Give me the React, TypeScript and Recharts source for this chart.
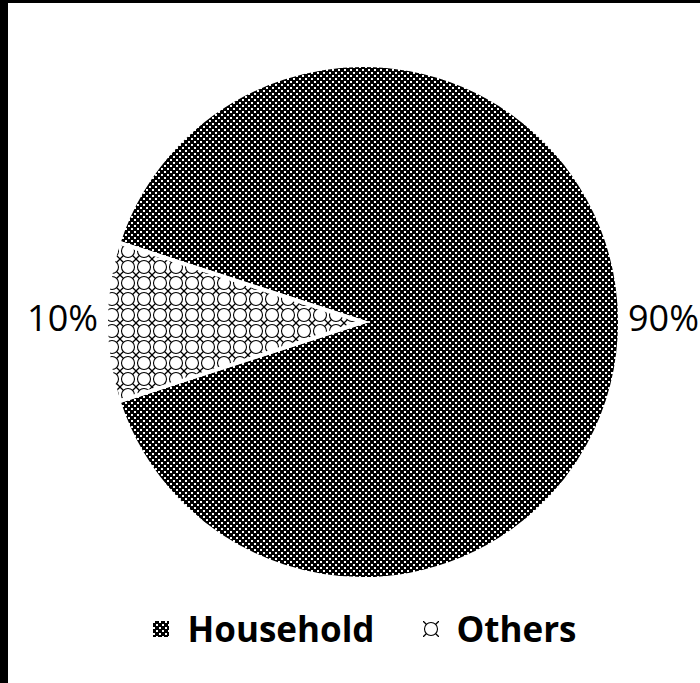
import React from "react";
import { PieChart, Pie, Cell, Legend } from "recharts";

const categories = ["Household", "Others"];
const shares = [90, 10];
const patternIds = ["householdPattern", "othersPattern"];

const data = categories.map((name, i) => ({ name, value: shares[i] }));

const FONT = "'Open Sans', sans-serif";
const RADIAN = Math.PI / 180;

const PercentLabel = (props: any) => {
  const { cx, cy, midAngle, outerRadius, value } = props;
  const r = outerRadius + 8;
  const x = cx + r * Math.cos(-midAngle * RADIAN);
  const y = cy + r * Math.sin(-midAngle * RADIAN);
  return (
    <text
      x={x}
      y={y - 5}
      fill="#000"
      textAnchor={x > cx ? "start" : "end"}
      dominantBaseline="central"
      style={{ fontFamily: FONT, fontSize: 36 }}
    >
      {value}%
    </text>
  );
};

const LegendContent = () => (
  <div
    style={{
      display: "flex",
      justifyContent: "center",
      alignItems: "center",
      paddingLeft: 22,
      fontFamily: FONT,
      fontSize: 35,
      fontWeight: 700,
      color: "#000",
    }}
  >
    {categories.map((name, i) => (
      <div
        key={name}
        style={{ display: "flex", alignItems: "center", marginRight: i === 0 ? 48 : 0 }}
      >
        <svg width={16} height={16} style={{ marginRight: 18 }}>
          <rect width={16} height={16} fill={`url(#${patternIds[i]})`} />
        </svg>
        <span>{name}</span>
      </div>
    ))}
  </div>
);

export default function App() {
  return (
    <div
      style={{
        position: "absolute",
        left: 0,
        top: 0,
        width: 700,
        height: 683,
        background: "#fff",
        borderLeft: "8px solid #000",
        borderTop: "3px solid #000",
        boxSizing: "border-box",
      }}
    >
      <PieChart width={692} height={680}>
        <defs>
          <pattern id="householdPattern" width={6} height={6} patternUnits="userSpaceOnUse">
            <rect width={6} height={6} fill="#000" />
            <rect x={0} y={0} width={2} height={2} fill="#fff" />
            <rect x={3} y={3} width={2} height={2} fill="#fff" />
          </pattern>
          <pattern id="othersPattern" width={16} height={16} patternUnits="userSpaceOnUse">
            <rect width={16} height={16} fill="#fff" />
            <circle cx={8} cy={8} r={6.5} fill="none" stroke="#000" strokeWidth={1.1} />
            <path
              d="M0 0 L3.5 3.5 M16 0 L12.5 3.5 M0 16 L3.5 12.5 M16 16 L12.5 12.5"
              stroke="#000"
              strokeWidth={1.3}
            />
          </pattern>
        </defs>
        <Pie
          data={data}
          dataKey="value"
          nameKey="name"
          cx={350}
          cy={314}
          outerRadius={257}
          startAngle={198}
          endAngle={558}
          stroke="#fff"
          strokeWidth={4}
          labelLine={false}
          label={PercentLabel}
          isAnimationActive={false}
        >
          {data.map((entry, i) => (
            <Cell key={entry.name} fill={`url(#${patternIds[i]})`} />
          ))}
        </Pie>
        <Legend
          content={LegendContent}
          wrapperStyle={{ top: 602, left: 0, width: 692 }}
        />
      </PieChart>
    </div>
  );
}
